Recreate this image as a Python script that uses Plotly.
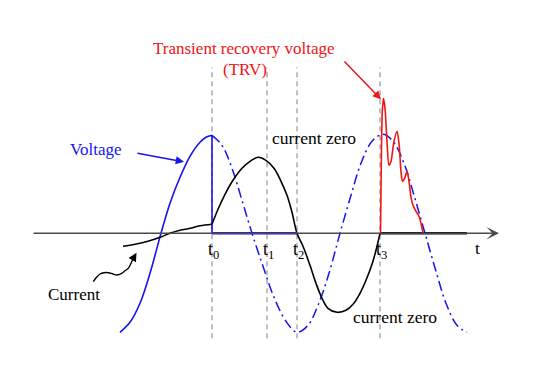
import plotly.graph_objects as go

# ---------------- data (time in arbitrary units, amplitudes in arbitrary units) ----------------
t_events = [212, 267, 297, 380]
event_labels = ["t<sub>0</sub>", "t<sub>1</sub>", "t<sub>2</sub>", "t<sub>3</sub>"]
event_line_top = 166
event_line_bottom = -105

axis_start = 32
axis_end = 499
current_zero_end = 467

voltage_solid_t = [120, 130, 140, 150, 161, 170, 180, 190, 200, 206, 212]
voltage_solid_v = [-99, -89, -70, -40, 0, 30, 56, 77, 91, 96, 98]

voltage_dash_t = [212, 222, 232, 242, 252, 263, 274, 286, 297, 308, 318, 329, 340,
                  351, 361, 372, 383, 393, 404, 414, 425, 436, 446, 457, 467]
voltage_dash_v = [98, 88, 65, 33, 0, -33, -64, -88, -99, -92, -72, -40, 0,
                  38, 70, 92, 99, 92, 70, 38, 0, -38, -70, -92, -99]

current_pre_t = [123, 135, 148, 160, 170, 180, 190, 200, 212]
current_pre_i = [-13, -11, -8, -4, 0, 3, 5, 7.5, 9]

current_post_t = [212, 218, 225, 233, 242, 250, 258, 266, 274, 281, 287, 292, 297,
                  303, 310, 316, 322, 328, 337, 346, 353, 360, 366, 372, 376, 380]
current_post_i = [9, 24, 39, 53, 65, 72, 76, 73, 65, 52, 38, 21, 0,
                  -13, -32, -50, -65, -75, -79, -77, -71, -60, -47, -31, -17, 0]

trv_t = [380.5, 381.3, 382.3, 383.5, 385, 387, 389, 391, 394, 397, 399, 401,
         402.5, 405, 407, 409, 411, 413, 416, 419, 421, 423]
trv_v = [0, 70, 122, 135, 125, 92, 68, 72, 92, 102, 90, 62,
         52, 56, 62, 52, 36, 28, 22, 17, 10, 0]

# squiggly pointer for the "Current" label
squiggle_t = [93.3, 96.5, 100, 104, 108.3, 112.5, 116.7, 121.7, 125, 128.3, 131, 133.3]
squiggle_v = [-48.4, -44, -40.7, -39.4, -39.4, -40.5, -41.7, -40, -37.5, -35, -30, -25]

BLUE = "#1414f0"
RED = "#f01414"
FONT = "Liberation Serif, Times New Roman, serif"

fig = go.Figure()

# vertical dashed event lines
for te in t_events:
    fig.add_trace(go.Scatter(x=[te, te], y=[event_line_bottom, event_line_top], mode="lines",
                             line=dict(color="#808080", width=1, dash="5px,4px"),
                             hoverinfo="skip", showlegend=False))

# voltage dash-dot (continuation of source voltage)
fig.add_trace(go.Scatter(x=voltage_dash_t, y=voltage_dash_v, mode="lines",
                         line=dict(color=BLUE, width=1.5, dash="10px,4px,2px,4px", shape="spline"),
                         hoverinfo="skip", showlegend=False))
# voltage solid
fig.add_trace(go.Scatter(x=voltage_solid_t, y=voltage_solid_v, mode="lines",
                         line=dict(color=BLUE, width=1.6, shape="spline"),
                         hoverinfo="skip", showlegend=False))
# voltage collapse at t0
fig.add_trace(go.Scatter(x=[t_events[0], t_events[0]], y=[voltage_solid_v[-1], 0], mode="lines",
                         line=dict(color=BLUE, width=1.6), hoverinfo="skip", showlegend=False))

# current
fig.add_trace(go.Scatter(x=current_pre_t, y=current_pre_i, mode="lines",
                         line=dict(color="black", width=1.6, shape="spline"),
                         hoverinfo="skip", showlegend=False))
fig.add_trace(go.Scatter(x=current_post_t, y=current_post_i, mode="lines",
                         line=dict(color="black", width=1.6, shape="spline"),
                         hoverinfo="skip", showlegend=False))

# squiggle
fig.add_trace(go.Scatter(x=squiggle_t, y=squiggle_v, mode="lines",
                         line=dict(color="black", width=1.4, shape="spline"),
                         hoverinfo="skip", showlegend=False))

# time axis with arrow
fig.add_annotation(x=axis_end, y=0, ax=axis_start, ay=0, xref="x", yref="y", axref="x", ayref="y",
                   text="", showarrow=True, arrowhead=3, arrowsize=1.4, arrowwidth=1.5,
                   arrowcolor="#4a4a4a", standoff=0, startstandoff=0)

# thick segments on the axis
fig.add_trace(go.Scatter(x=[t_events[0], t_events[2]], y=[0, 0], mode="lines",
                         line=dict(color=BLUE, width=2.6), hoverinfo="skip", showlegend=False))
fig.add_trace(go.Scatter(x=[t_events[3], current_zero_end], y=[0, 0], mode="lines",
                         line=dict(color="black", width=2.6), hoverinfo="skip", showlegend=False))

# TRV
fig.add_trace(go.Scatter(x=trv_t, y=trv_v, mode="lines",
                         line=dict(color=RED, width=1.6, shape="spline", smoothing=0.8),
                         hoverinfo="skip", showlegend=False))

# event labels
for te, lab in zip(t_events, event_labels):
    fig.add_annotation(x=te + 1.5, y=-17.5, text=lab, showarrow=False, xanchor="center", yanchor="middle",
                       font=dict(family=FONT, size=18, color="black"))
fig.add_annotation(x=477, y=-14.5, text="t", showarrow=False,
                   font=dict(family=FONT, size=17.5, color="black"))

# text labels
fig.add_annotation(x=96, y=84, text="Voltage", showarrow=False,
                   font=dict(family=FONT, size=17, color=BLUE))
fig.add_annotation(x=74, y=-61, text="Current", showarrow=False,
                   font=dict(family=FONT, size=17, color="black"))
fig.add_annotation(x=244, y=184.5, text="Transient recovery voltage", showarrow=False,
                   font=dict(family=FONT, size=17, color=RED))
fig.add_annotation(x=244.5, y=163.5, text="(TRV)", showarrow=False,
                   font=dict(family=FONT, size=17, color=RED))
fig.add_annotation(x=314, y=95, text="current zero", showarrow=False,
                   font=dict(family=FONT, size=17.5, color="black"))
fig.add_annotation(x=395, y=-84, text="current zero", showarrow=False,
                   font=dict(family=FONT, size=17.5, color="black"))

# pointer arrows
fig.add_annotation(x=184, y=71.5, ax=136, ay=80.3, xref="x", yref="y", axref="x", ayref="y",
                   text="", showarrow=True, arrowhead=2, arrowsize=1.1, arrowwidth=1.5,
                   arrowcolor=BLUE, standoff=0, startstandoff=0)
fig.add_annotation(x=381, y=134, ax=343, ay=173.3, xref="x", yref="y", axref="x", ayref="y",
                   text="", showarrow=True, arrowhead=2, arrowsize=1.1, arrowwidth=1.5,
                   arrowcolor=RED, standoff=0, startstandoff=0)
fig.add_annotation(x=136.5, y=-19.5, ax=133.3, ay=-25, xref="x", yref="y", axref="x", ayref="y",
                   text="", showarrow=True, arrowhead=2, arrowsize=1.2, arrowwidth=1.4,
                   arrowcolor="black", standoff=0, startstandoff=0)

# page has an 8px body margin: shrink the figure so it fits, keep 1 unit = 1 px
fig.update_layout(
    width=522, height=364, autosize=False,
    margin=dict(l=0, r=0, t=0, b=0),
    paper_bgcolor="white", plot_bgcolor="white",
    xaxis=dict(range=[8, 530], visible=False, fixedrange=True),
    yaxis=dict(range=[-138.7, 225.3], visible=False, fixedrange=True),
    showlegend=False,
)

fig.write_html("out.html", config={"displayModeBar": False})
